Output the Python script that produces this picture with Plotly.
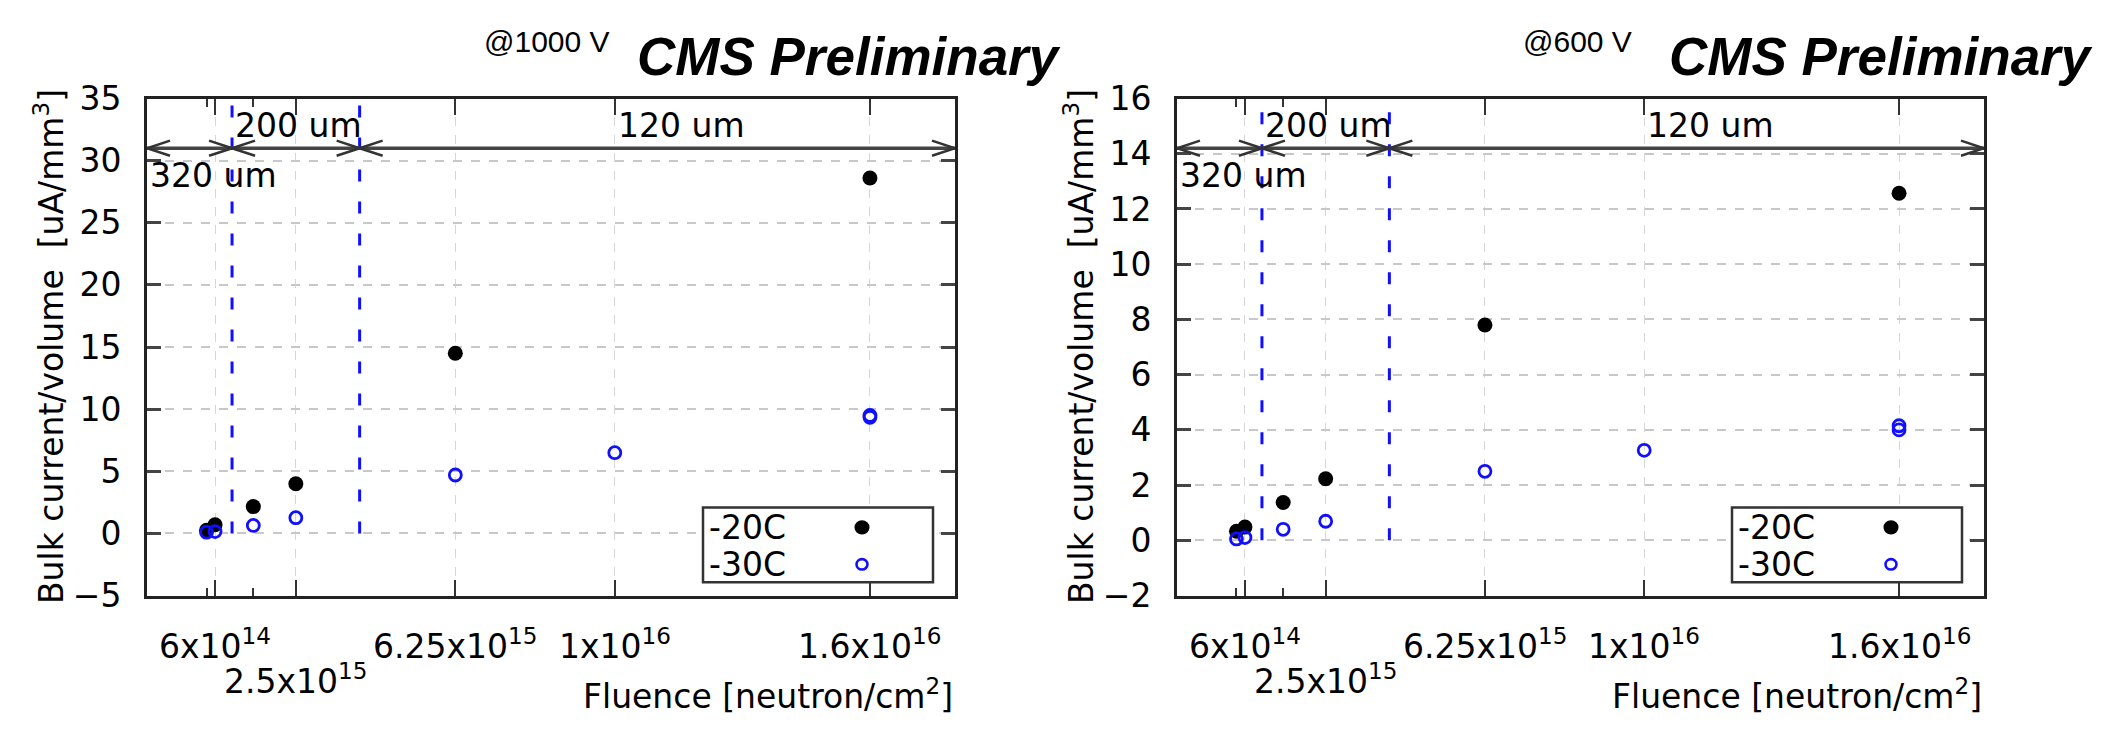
import plotly.graph_objects as go

W, H = 2103, 732

# ---------------- data ----------------
fluence_m20 = [4e14, 6e14, 1.5e15, 2.5e15, 6.25e15, 1.6e16]
fluence_m30 = [4e14, 6e14, 1.5e15, 2.5e15, 6.25e15, 1e16, 1.6e16, 1.6e16]

current_1000V_m20 = [0.26, 0.7, 2.16, 4.0, 14.5, 28.6]
current_1000V_m30 = [0.1, 0.15, 0.64, 1.27, 4.7, 6.5, 9.35, 9.5]
current_600V_m20 = [0.33, 0.48, 1.37, 2.23, 7.8, 12.57]
current_600V_m30 = [0.05, 0.1, 0.4, 0.69, 2.5, 3.26, 4.0, 4.15]

series_names = ["-20C", "-30C"]
voltage_labels = ["@1000 V", "@600 V"]

tick_vals = [6e14, 2.5e15, 6.25e15, 1e16, 1.6e16]
tick_text = ["6x10<sup>14</sup>", "2.5x10<sup>15</sup>", "6.25x10<sup>15</sup>",
             "1x10<sup>16</sup>", "1.6x10<sup>16</sup>"]
minor_tick_vals = [4e14, 1.5e15]

thickness_edges = [-1e15, 1e15, 4e15, 1.8e16]
thickness_labels = ["320 um", "200 um", "120 um"]
thickness_label_x = [-1e15, 1e15, 1e16]
sensor_boundaries = [1e15, 4e15]

x_range = [-1e15, 1.8e16]
y_ranges = [[-5, 35], [-2, 16]]
y_dticks = [5, 2]
arrow_y = [31.0, 14.2]

# ---------------- geometry (pixels) ----------------
FRAMES = [(147, 955), (1177, 1984)]
TOP, BOT = 84, 609
def fx(px): return px / W
def fy(py): return 1 - py / H

SANS = "DejaVu Sans, Verdana, sans-serif"
ARIAL = "Liberation Sans, Arial, sans-serif"
FS = 33

fig = go.Figure()
panels = [
    (current_1000V_m20, current_1000V_m30),
    (current_600V_m20, current_600V_m30),
]
shapes = []
annotations = []

for i, (ym20, ym30) in enumerate(panels):
    xa = "x" if i == 0 else "x2"
    ya = "y" if i == 0 else "y2"
    yr = y_ranges[i]
    x0p, x1p = FRAMES[i]
    dx_per_px = (x_range[1] - x_range[0]) / (x1p - x0p)
    dy_per_px = (yr[1] - yr[0]) / (BOT - TOP)

    # blue dashed sensor boundaries
    for b in sensor_boundaries:
        fig.add_trace(go.Scatter(x=[b, b], y=[0, yr[1]], mode="lines", xaxis=xa, yaxis=ya,
                                 line=dict(color="#1010ff", width=3, dash="12px,20px"),
                                 showlegend=False, hoverinfo="skip"))
    fig.add_trace(go.Scatter(x=fluence_m20, y=ym20, mode="markers", xaxis=xa, yaxis=ya,
                             name=series_names[0], showlegend=False,
                             marker=dict(symbol="circle", size=15, color="black")))
    fig.add_trace(go.Scatter(x=fluence_m30, y=ym30, mode="markers", xaxis=xa, yaxis=ya,
                             name=series_names[1], showlegend=False,
                             marker=dict(symbol="circle-open", size=12, color="#1010ff",
                                         line=dict(width=2.8, color="#1010ff"))))

    # thickness arrows
    ay = arrow_y[i]
    L = 23 * dx_per_px
    h = 8 * dy_per_px
    for a, b in zip(thickness_edges[:-1], thickness_edges[1:]):
        shapes.append(dict(type="line", xref=xa, yref=ya, x0=a, x1=b, y0=ay, y1=ay,
                           line=dict(color="#444", width=3.5)))
        for tip, sgn in ((a, 1), (b, -1)):
            for s in (1, -1):
                shapes.append(dict(type="line", xref=xa, yref=ya, x0=tip, y0=ay,
                                   x1=tip + sgn * L, y1=ay + s * h,
                                   line=dict(color="#333", width=2.5)))
    for k, (lab, lx) in enumerate(zip(thickness_labels, thickness_label_x)):
        below = (k == 0)
        annotations.append(dict(xref=xa, yref="paper", x=lx, y=fy(165 if below else 113),
                                text=lab, showarrow=False, xanchor="left", yanchor="middle",
                                xshift=1, font=dict(family=SANS, size=FS, color="black")))

    # x tick labels (staggered)
    for k, (tv, tt) in enumerate(zip(tick_vals, tick_text)):
        row = 1 if k == 1 else 0
        annotations.append(dict(xref=xa, yref="paper", x=tv, y=fy(636 + 37 * row),
                                text=tt, showarrow=False, xanchor="center", yanchor="top",
                                font=dict(family=SANS, size=FS, color="black")))

    # axis titles
    annotations.append(dict(xref="paper", yref="paper", x=fx(x1p), y=fy(713),
                            text="Fluence [neutron/cm<sup>2</sup>]", showarrow=False,
                            xanchor="right", yanchor="middle",
                            font=dict(family=SANS, size=FS, color="black")))
    annotations.append(dict(xref="paper", yref="paper", x=fx(x0p - 98), y=fy((TOP + BOT) / 2),
                            text="Bulk current/volume  [uA/mm<sup>3</sup>]", showarrow=False,
                            textangle=-90, xanchor="center", yanchor="middle",
                            font=dict(family=SANS, size=FS, color="black")))
    # voltage + CMS label
    annotations.append(dict(xref="paper", yref="paper", x=fx(x0p + 400), y=fy(24),
                            text=voltage_labels[i], showarrow=False, xanchor="center",
                            yanchor="middle", font=dict(family=ARIAL, size=30, color="black")))
    annotations.append(dict(xref="paper", yref="paper", x=fx(x1p + 108 + 3 * i), y=fy(40),
                            text="<b><i>CMS Preliminary</i></b>", showarrow=False,
                            xanchor="right", yanchor="middle",
                            font=dict(family=ARIAL, size=53, color="black")))

    # legend box
    bl, br = x1p - 252, x1p - 22
    bt, bb = 516, 595
    shapes.append(dict(type="rect", xref="paper", yref="paper", x0=fx(bl), x1=fx(br),
                       y0=fy(bb), y1=fy(bt), line=dict(color="#333", width=2.5),
                       fillcolor="white", layer="above"))
    for j, (nm, cy) in enumerate(zip(series_names, [537, 576])):
        annotations.append(dict(xref="paper", yref="paper", x=fx(bl + 4), y=fy(cy),
                                text=nm, showarrow=False, xanchor="left", yanchor="middle",
                                font=dict(family=SANS, size=FS, color="black")))
        cx = bl + 159
        if j == 0:
            r = 7.5
            shapes.append(dict(type="circle", xref="paper", yref="paper",
                               x0=fx(cx - r), x1=fx(cx + r), y0=fy(cy + r), y1=fy(cy - r),
                               fillcolor="black", line=dict(color="black", width=0), layer="above"))
        else:
            r = 5.5
            shapes.append(dict(type="circle", xref="paper", yref="paper",
                               x0=fx(cx - r), x1=fx(cx + r), y0=fy(cy + r), y1=fy(cy - r),
                               fillcolor="rgba(0,0,0,0)", line=dict(color="#1010ff", width=2.6),
                               layer="above"))

def xaxis_cfg(i):
    x0p, x1p = FRAMES[i]
    return dict(domain=[fx(x0p), fx(x1p)], range=x_range, anchor="y" if i == 0 else "y2",
                tickmode="array", tickvals=tick_vals, showticklabels=False,
                ticks="inside", ticklen=16, tickwidth=2, tickcolor="#333",
                showline=True, linecolor="#222", linewidth=3, mirror="ticks",
                showgrid=True, gridcolor="#d6d6d6", gridwidth=1, griddash="dash",
                zeroline=False,
                minor=dict(tickmode="array", tickvals=minor_tick_vals, ticks="inside",
                           ticklen=8, tickwidth=2, tickcolor="#333", showgrid=False))

def yaxis_cfg(i):
    return dict(domain=[fy(BOT), fy(TOP)], range=y_ranges[i], anchor="x" if i == 0 else "x2",
                dtick=y_dticks[i], tick0=0, ticks="inside", ticklen=14, tickwidth=3,
                tickcolor="#444", showline=True, linecolor="#222", linewidth=3,
                mirror="ticks", showgrid=True, gridcolor="#c8c8c8", gridwidth=2,
                griddash="dash", zeroline=False, ticklabelstandoff=16,
                tickfont=dict(family=SANS, size=33, color="black"))

fig.update_layout(
    width=W, height=H, margin=dict(l=0, r=0, t=0, b=0),
    paper_bgcolor="white", plot_bgcolor="white", showlegend=False,
    xaxis=xaxis_cfg(0), xaxis2=xaxis_cfg(1),
    yaxis=yaxis_cfg(0), yaxis2=yaxis_cfg(1),
    shapes=shapes, annotations=annotations,
)

fig.write_html("out.html", config={"displayModeBar": False},
               post_script="document.body.style.margin='0';document.body.style.overflow='hidden';")
